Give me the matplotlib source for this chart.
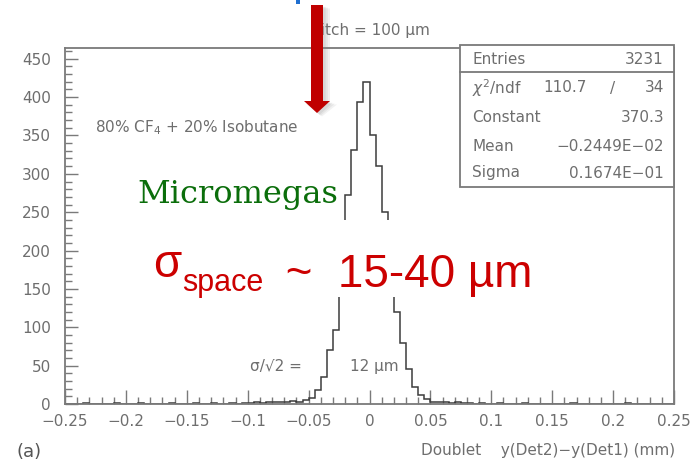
import numpy as np
import matplotlib
matplotlib.use("Agg")
import matplotlib.pyplot as plt
from matplotlib.patches import FancyArrow, Rectangle
from matplotlib.ticker import MultipleLocator, FixedLocator, FixedFormatter

# histogramme : 100 bins de 0.005 mm entre -0.25 et 0.25
bin_lo = -0.25
bin_hi = 0.25
n_bins = 100
counts = [
    0, 0, 0, 1, 0, 0, 0, 0, 1, 0,
    0, 0, 1, 0, 0, 0, 0, 1, 0, 0,
    0, 1, 0, 0, 1, 0, 0, 1, 0, 1,
    1, 2, 1, 2, 3, 2, 3, 4, 3, 5,
    8, 18, 35, 70, 97, 190, 273, 331, 394, 420,
    351, 310, 250, 180, 120, 80, 45, 22, 12, 7,
    3, 2, 3, 1, 2, 1, 1, 0, 1, 0,
    0, 1, 0, 0, 0, 1, 0, 0, 0, 0,
    0, 0, 0, 1, 0, 0, 0, 0, 0, 0,
    0, 0, 1, 0, 0, 0, 0, 0, 0, 0,
]

x_ticks = [-0.25, -0.2, -0.15, -0.1, -0.05, 0, 0.05, 0.1, 0.15, 0.2, 0.25]
x_tick_labels = ["\u22120.25", "\u22120.2", "\u22120.15", "\u22120.1", "\u22120.05",
                 "0", "0.05", "0.1", "0.15", "0.2", "0.25"]
y_ticks = [0, 50, 100, 150, 200, 250, 300, 350, 400, 450]

stat_names = ["Entries", "Constant", "Mean", "Sigma"]
stat_values = ["3231", "370.3", "\u22120.2449E\u221202", "0.1674E\u221201"]
chi2_val = "110.7"
ndf_val = "34"

W, H = 695, 467
gray = "#6e6e6e"
axcol = "#7a7a7a"


def fx(px):
    return px / W


def fy(py):
    return 1 - py / H


fig = plt.figure(figsize=(W / 100, H / 100), dpi=100)
ax = fig.add_axes([fx(65), fy(404), fx(674) - fx(65), fy(48) - fy(404)])

edges = np.linspace(bin_lo, bin_hi, n_bins + 1)
ax.stairs(counts, edges, color="#3c3c3c", linewidth=1.1, zorder=2)

ax.set_xlim(bin_lo, bin_hi)
ax.set_ylim(0, 464)

ax.xaxis.set_major_locator(FixedLocator(x_ticks))
ax.xaxis.set_major_formatter(FixedFormatter(x_tick_labels))
ax.xaxis.set_minor_locator(MultipleLocator(0.01))
ax.yaxis.set_major_locator(FixedLocator(y_ticks))
ax.yaxis.set_minor_locator(MultipleLocator(10))

ax.tick_params(axis="x", which="major", direction="in", length=10, width=1,
               color=axcol, labelsize=11, labelcolor=gray, pad=7)
ax.tick_params(axis="x", which="minor", direction="in", length=5, width=1, color=axcol)
ax.tick_params(axis="y", which="major", direction="in", length=9, width=1,
               color=axcol, labelsize=11, labelcolor=gray, pad=10)
ax.tick_params(axis="y", which="minor", direction="in", length=5, width=1, color=axcol)
for s in ax.spines.values():
    s.set_color(axcol)
    s.set_linewidth(1.3)

# bandeau blanc sous le texte rouge
ax.add_artist(Rectangle((fx(150), fy(297)), fx(545) - fx(150), fy(220) - fy(297),
                        transform=fig.transFigure, facecolor="white",
                        edgecolor="none", zorder=3))

# boite de stat
fig.add_artist(Rectangle((fx(460), fy(187)), fx(674) - fx(460), fy(45) - fy(187),
                         transform=fig.transFigure, facecolor="white",
                         edgecolor=axcol, linewidth=1.3, zorder=5))
fig.add_artist(plt.Line2D([fx(460), fx(674)], [fy(72), fy(72)],
                          transform=fig.transFigure, color=axcol, lw=1.3, zorder=6))
rows_y = [60, 118, 147, 173]
for name, val, ry in zip(stat_names, stat_values, rows_y):
    fig.text(fx(472), fy(ry), name, fontsize=11, color=gray, va="center", zorder=7)
    fig.text(fx(664), fy(ry), val, fontsize=11, color=gray, va="center",
             ha="right", zorder=7)
fig.text(fx(472), fy(88), r"$\chi^2$/ndf", fontsize=11, color=gray, va="center", zorder=7)
fig.text(fx(587), fy(88), chi2_val, fontsize=11, color=gray, va="center", ha="right", zorder=7)
fig.text(fx(613), fy(88), "/", fontsize=11, color=gray, va="center", ha="center", zorder=7)
fig.text(fx(664), fy(88), ndf_val, fontsize=11, color=gray, va="center", ha="right", zorder=7)

# textes du scan
fig.text(fx(370), fy(30), "pitch = 100 \u00b5m", fontsize=11, color=gray,
         ha="center", va="center")
fig.text(fx(95), fy(128), "80% CF$_4$ + 20% Isobutane", fontsize=11, color=gray,
         va="center")
fig.text(fx(250), fy(367), "\u03c3/\u221a2 =", fontsize=11, color=gray, va="center")
fig.text(fx(350), fy(367), "12 \u00b5m", fontsize=11, color=gray, va="center")
fig.text(fx(675), fy(450), "Doublet    y(Det2)\u2212y(Det1) (mm)", fontsize=11,
         color=gray, ha="right", va="center")
fig.text(fx(17), fy(452), "(a)", fontsize=13, color="#555555", va="center")

# annotations
fig.text(fx(137), fy(203), "Micromegas", family="DejaVu Serif", fontsize=23,
         color="#0b6e0b", va="baseline", zorder=8)

red = "#cc0000"
t1 = fig.text(fx(153), fy(277), "\u03c3", family="Liberation Sans", fontsize=33,
              color=red, va="baseline", zorder=8)
ax.annotate("space", xy=(1, 0), xycoords=t1, xytext=(1, -3),
            textcoords="offset points", family="Liberation Sans",
            fontsize=22, color=red, va="baseline", zorder=8)
ax.annotate(" ~  15-40 \u00b5m", xy=(1, 0), xycoords=t1, xytext=(66, 0),
            textcoords="offset points", family="Liberation Sans",
            fontsize=33, color=red, va="baseline", zorder=8)

# fleche rouge + ombre douce
for k, a in enumerate([0.10, 0.12, 0.15]):
    d = 5 - 1.2 * k
    fig.add_artist(FancyArrow(fx(317 + d), fy(5 + d * 0.7), 0, fy(113) - fy(5),
                              width=fx(12 + 2 * (2 - k)), head_width=fx(26 + 2 * (2 - k)),
                              head_length=12 / H, length_includes_head=True,
                              transform=fig.transFigure, color="#888888",
                              alpha=a, lw=0, zorder=9))
fig.add_artist(FancyArrow(fx(317), fy(5), 0, fy(113) - fy(5), width=fx(12),
                          head_width=fx(26), head_length=12 / H,
                          length_includes_head=True, transform=fig.transFigure,
                          color="#c00000", lw=0, zorder=10))
fig.add_artist(Rectangle((fx(296), fy(4)), fx(4), 4 / H, transform=fig.transFigure,
                         facecolor="#1f6fd0", edgecolor="none", zorder=10))

fig.savefig("out.png", dpi=100)
